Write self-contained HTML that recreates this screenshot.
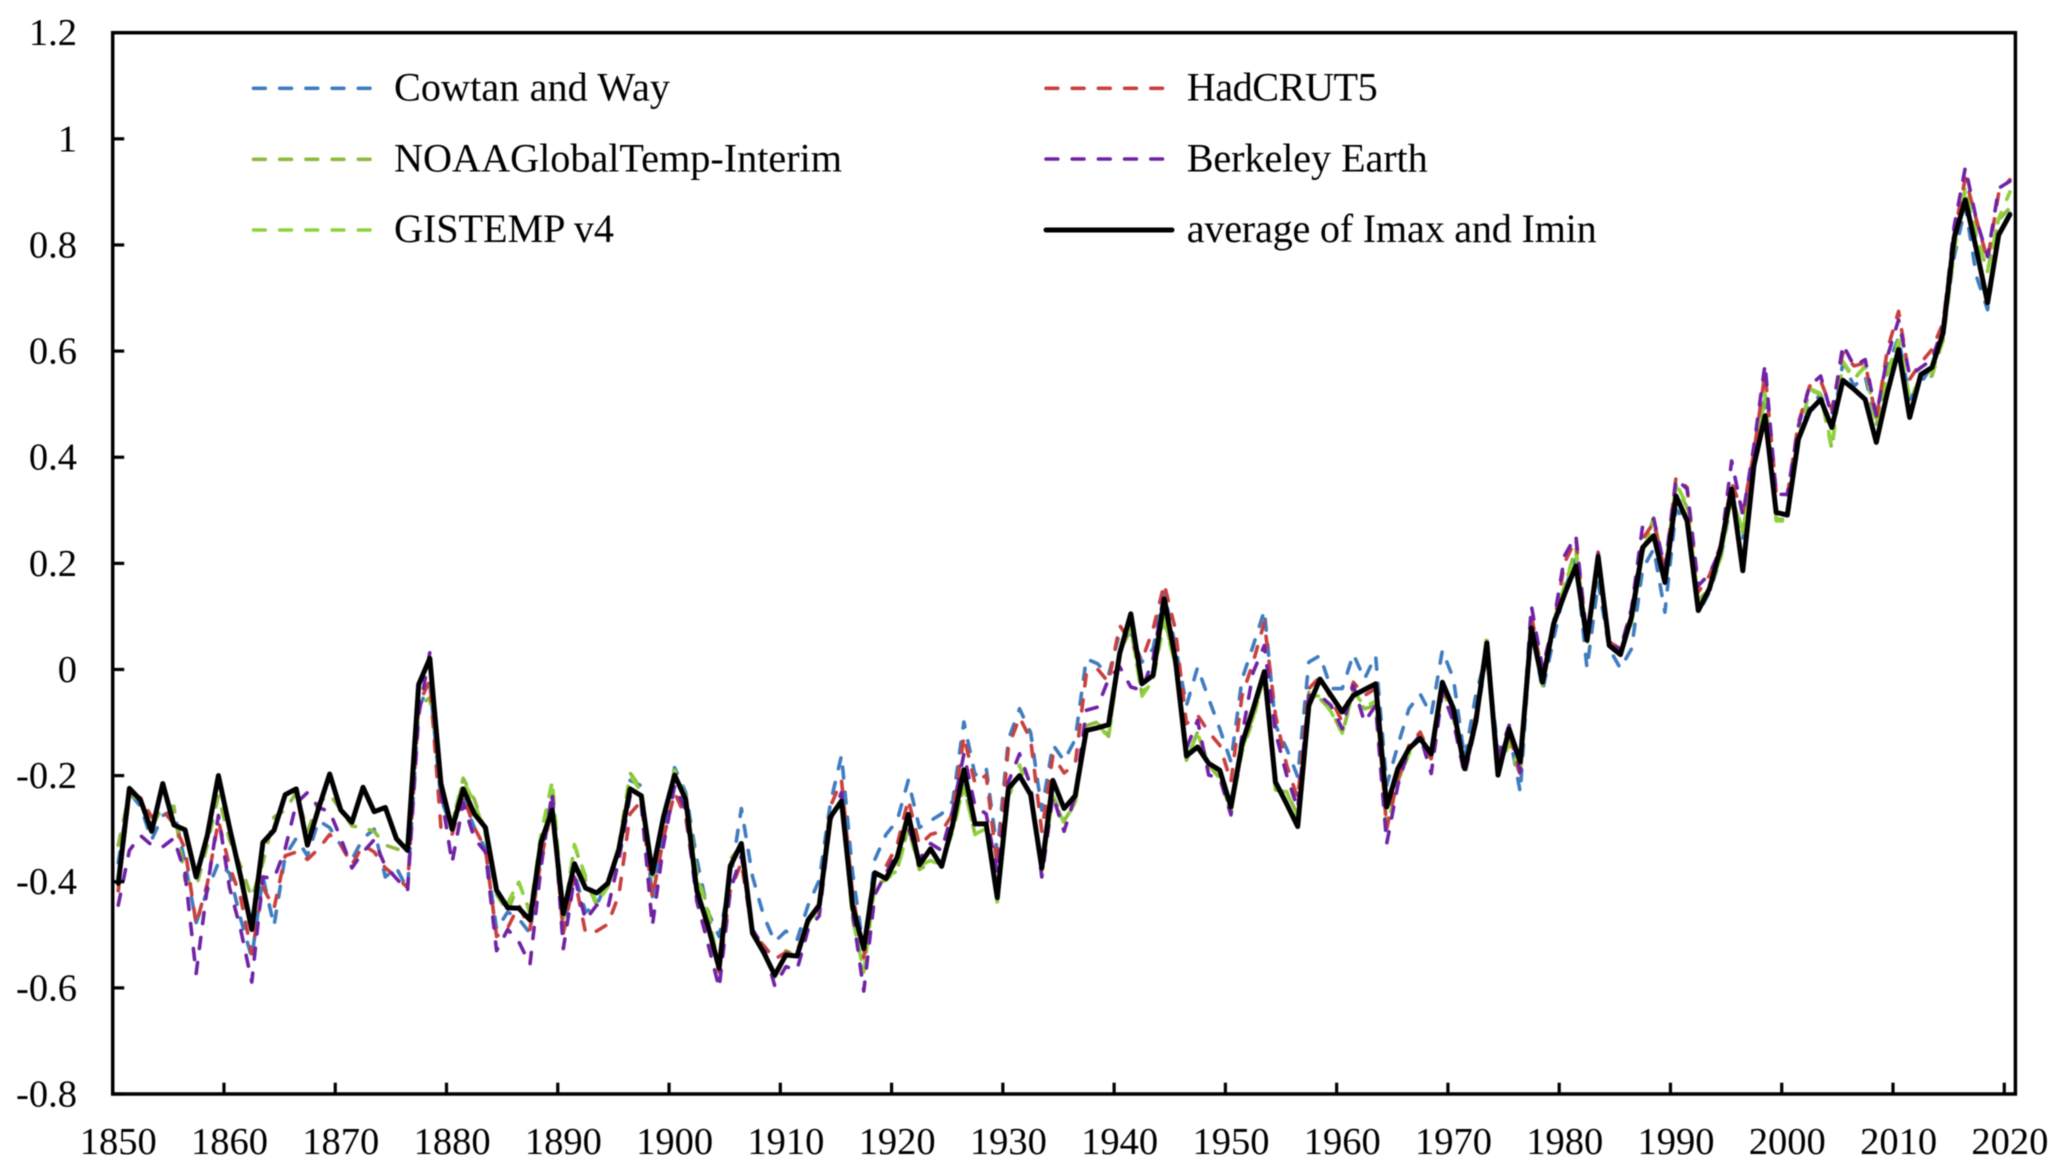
<!DOCTYPE html>
<html lang="en">
<head>
<meta charset="utf-8">
<title>Global temperature anomaly datasets, 1850-2020</title>
<style>
html,body{margin:0;padding:0;background:#fff;}
svg{display:block;filter:blur(0.45px);}
text{font-family:"Liberation Serif",serif;fill:#000;}
.tick-label{font-size:38.5px;}
.legend-label{font-size:40.2px;}
</style>
</head>
<body>
<svg id="chart" xmlns="http://www.w3.org/2000/svg" width="2067" height="1172" viewBox="0 0 2067 1172">
  <rect x="0" y="0" width="2067" height="1172" fill="#fff"/>
  <g id="series-layer"></g>
  <g id="axes-layer"></g>
  <g>
    <g>
      <line x1="253.5" y1="88.3" x2="370" y2="88.3" stroke="#3f7cc0" stroke-width="3.6" stroke-linecap="round" stroke-dasharray="11.8 14.4"/>
      <text class="legend-label" x="394" y="100.5" textLength="276">Cowtan and Way</text>
    </g>
    <g>
      <line x1="253.5" y1="159.3" x2="370" y2="159.3" stroke="#8dbb3e" stroke-width="3.6" stroke-linecap="round" stroke-dasharray="11.8 14.4"/>
      <text class="legend-label" x="394" y="171.7" textLength="448">NOAAGlobalTemp-Interim</text>
    </g>
    <g>
      <line x1="253.5" y1="230" x2="370" y2="230" stroke="#8ed23c" stroke-width="3.6" stroke-linecap="round" stroke-dasharray="11.8 14.4"/>
      <text class="legend-label" x="394" y="242" textLength="220">GISTEMP v4</text>
    </g>
    <g>
      <line x1="1046" y1="88.3" x2="1162.5" y2="88.3" stroke="#c8403f" stroke-width="3.6" stroke-linecap="round" stroke-dasharray="11.8 14.4"/>
      <text class="legend-label" x="1186.7" y="100.5" textLength="191">HadCRUT5</text>
    </g>
    <g>
      <line x1="1046" y1="159" x2="1162.5" y2="159" stroke="#7022a4" stroke-width="3.6" stroke-linecap="round" stroke-dasharray="11.8 14.4"/>
      <text class="legend-label" x="1186.7" y="171.7" textLength="241">Berkeley Earth</text>
    </g>
    <g>
      <line x1="1046" y1="230" x2="1172" y2="230" stroke="#000" stroke-width="5" stroke-linecap="round"/>
      <text class="legend-label" x="1186.7" y="242" textLength="410">average of Imax and Imin</text>
    </g>
  </g>
</svg>
<script>
const firstYear = 1850;
const gistempFirstYear = 1880;
const yTickValues = [1.2, 1, 0.8, 0.6, 0.4, 0.2, 0, -0.2, -0.4, -0.6, -0.8];
const yTickLabels = ["1.2", "1", "0.8", "0.6", "0.4", "0.2", "0", "-0.2", "-0.4", "-0.6", "-0.8"];
const xTickYears = [1850, 1860, 1870, 1880, 1890, 1900, 1910, 1920, 1930, 1940, 1950, 1960, 1970, 1980, 1990, 2000, 2010, 2020];

const cowtanWay = [
-.364,-.232,-.258,-.321,-.275,-.265,-.364,-.477,-.417,-.364,
-.384,-.470,-.543,-.391,-.483,-.351,-.318,-.351,-.285,-.298,
-.331,-.358,-.318,-.301,-.391,-.374,-.414,-.073,-.026,-.245,
-.298,-.245,-.298,-.338,-.490,-.457,-.470,-.497,-.344,-.238,
-.490,-.384,-.457,-.444,-.397,-.358,-.209,-.219,-.430,-.298,
-.185,-.232,-.358,-.457,-.503,-.397,-.262,-.390,-.464,-.513,
-.493,-.510,-.444,-.397,-.252,-.162,-.384,-.530,-.358,-.311,
-.285,-.209,-.298,-.285,-.272,-.248,-.099,-.199,-.185,-.344,
-.132,-.074,-.119,-.265,-.142,-.172,-.132,.020,.011,-.011,
.070,.070,.014,.039,.145,.045,-.068,.004,-.055,-.112,
-.174,-.018,.045,.111,-.105,-.149,-.202,.014,.026,-.036,
-.036,.029,-.018,.026,-.218,-.143,-.074,-.046,-.086,.036,
-.018,-.168,-.049,.033,-.155,-.118,-.231,.083,-.040,.058,
.152,.208,.002,.164,.039,.002,.039,.190,.227,.108,
.302,.277,.105,.146,.208,.321,.246,.378,.522,.296,
.290,.434,.497,.518,.453,.578,.534,.553,.459,.572,
.625,.509,.540,.572,.641,.778,.873,.741,.678,.822,
.860];

const noaaInterim = [
-.331,-.232,-.252,-.298,-.257,-.258,-.397,-.411,-.331,-.238,
-.321,-.371,-.430,-.364,-.278,-.265,-.232,-.305,-.252,-.235,
-.265,-.295,-.298,-.305,-.331,-.338,-.344,-.070,-.053,-.219,
-.291,-.205,-.245,-.305,-.424,-.457,-.401,-.457,-.318,-.212,
-.470,-.331,-.397,-.444,-.404,-.331,-.195,-.225,-.390,-.278,
-.199,-.238,-.384,-.450,-.570,-.358,-.331,-.490,-.530,-.580,
-.530,-.540,-.477,-.444,-.278,-.245,-.470,-.570,-.404,-.397,
-.377,-.298,-.377,-.364,-.364,-.305,-.219,-.311,-.298,-.440,
-.238,-.199,-.232,-.377,-.238,-.285,-.252,-.106,-.099,-.126,
.033,.076,-.046,-.018,.101,.008,-.171,-.118,-.180,-.205,
-.268,-.155,-.093,-.011,-.227,-.231,-.274,-.043,-.055,-.077,
-.121,-.043,-.074,-.068,-.290,-.212,-.155,-.118,-.165,-.036,
-.093,-.187,-.093,.064,-.193,-.137,-.193,.070,-.030,.089,
.158,.230,.045,.196,.052,.027,.089,.221,.287,.177,
.346,.305,.130,.152,.208,.327,.258,.390,.509,.283,
.283,.434,.528,.518,.415,.578,.547,.572,.459,.559,
.616,.509,.547,.553,.622,.791,.904,.810,.753,.847,
.870];

const gistemp = [
-.29,-.21,-.25,-.31,-.42,-.44,-.40,-.46,-.31,-.21,
-.47,-.33,-.39,-.44,-.41,-.34,-.20,-.23,-.39,-.28,
-.19,-.24,-.39,-.46,-.56,-.36,-.33,-.49,-.53,-.58,
-.54,-.54,-.48,-.45,-.28,-.24,-.47,-.57,-.40,-.39,
-.38,-.30,-.37,-.36,-.37,-.30,-.22,-.31,-.30,-.44,
-.24,-.18,-.24,-.38,-.24,-.29,-.25,-.11,-.10,-.13,
.03,.08,-.05,-.02,.09,.01,-.17,-.12,-.18,-.20,
-.27,-.15,-.09,-.01,-.23,-.23,-.28,-.05,-.05,-.08,
-.12,-.04,-.07,-.06,-.30,-.21,-.16,-.12,-.17,-.04,
-.09,-.19,-.09,.06,-.19,-.14,-.20,.07,-.03,.09,
.16,.22,.05,.20,.05,.03,.09,.22,.28,.18,
.35,.31,.13,.15,.21,.33,.26,.39,.52,.28,
.28,.43,.53,.52,.42,.58,.55,.57,.46,.56,
.62,.51,.55,.56,.62,.79,.91,.82,.75,.85,
.90];

const hadcrut5 = [
-.417,-.232,-.242,-.278,-.265,-.291,-.338,-.480,-.404,-.285,
-.371,-.430,-.536,-.410,-.450,-.351,-.344,-.358,-.338,-.311,
-.331,-.368,-.331,-.344,-.374,-.391,-.411,-.066,-.020,-.298,
-.311,-.238,-.298,-.338,-.503,-.487,-.444,-.490,-.358,-.258,
-.497,-.391,-.497,-.493,-.480,-.424,-.272,-.248,-.430,-.318,
-.232,-.278,-.424,-.490,-.570,-.417,-.364,-.497,-.520,-.546,
-.533,-.533,-.470,-.444,-.258,-.209,-.424,-.543,-.384,-.371,
-.331,-.245,-.331,-.311,-.305,-.272,-.126,-.215,-.199,-.371,
-.146,-.090,-.132,-.305,-.162,-.195,-.179,-.008,.001,-.024,
.083,.051,.017,.076,.161,.076,-.102,-.086,-.118,-.143,
-.212,-.049,.014,.089,-.086,-.180,-.243,-.036,-.014,-.055,
-.099,-.024,-.049,-.036,-.300,-.206,-.143,-.118,-.168,-.036,
-.086,-.187,-.086,.033,-.174,-.118,-.199,.102,-.011,.083,
.202,.246,.058,.221,.052,.039,.114,.246,.277,.183,
.362,.343,.146,.177,.233,.352,.296,.409,.559,.334,
.327,.465,.534,.544,.490,.597,.572,.578,.471,.603,
.675,.547,.578,.603,.653,.822,.926,.847,.772,.898,
.923];

const berkeleyEarth = [
-.444,-.341,-.313,-.331,-.334,-.318,-.384,-.573,-.411,-.275,
-.411,-.490,-.589,-.391,-.394,-.338,-.252,-.232,-.260,-.268,
-.318,-.374,-.344,-.321,-.371,-.394,-.417,-.086,.032,-.232,
-.364,-.252,-.318,-.344,-.530,-.490,-.513,-.556,-.371,-.232,
-.526,-.391,-.472,-.444,-.450,-.358,-.238,-.252,-.483,-.331,
-.219,-.265,-.437,-.517,-.600,-.417,-.351,-.490,-.523,-.596,
-.560,-.566,-.490,-.464,-.285,-.232,-.457,-.606,-.424,-.384,
-.344,-.298,-.358,-.328,-.341,-.265,-.159,-.258,-.272,-.384,
-.212,-.159,-.219,-.391,-.238,-.305,-.238,-.077,-.071,-.018,
.005,-.033,-.039,.020,.145,.020,-.149,-.096,-.199,-.205,
-.274,-.124,-.005,.045,-.118,-.199,-.262,-.049,-.049,-.068,
-.112,-.030,-.099,-.068,-.328,-.218,-.149,-.124,-.196,-.043,
-.099,-.199,-.105,.033,-.168,-.105,-.193,.120,.002,.089,
.215,.252,.058,.218,.045,.039,.114,.271,.284,.190,
.359,.340,.158,.180,.227,.393,.290,.421,.575,.330,
.330,.459,.534,.553,.478,.612,.572,.584,.478,.590,
.659,.553,.569,.584,.647,.835,.946,.847,.778,.907,
.920];

const averageImaxImin = [
-.403,-.224,-.246,-.305,-.215,-.293,-.302,-.391,-.313,-.200,
-.298,-.390,-.490,-.326,-.303,-.236,-.225,-.331,-.262,-.197,
-.265,-.288,-.222,-.268,-.260,-.319,-.341,-.028,.021,-.215,
-.301,-.225,-.272,-.298,-.416,-.449,-.450,-.472,-.325,-.265,
-.460,-.366,-.412,-.421,-.403,-.338,-.225,-.238,-.384,-.278,
-.199,-.245,-.417,-.483,-.563,-.371,-.328,-.497,-.533,-.576,
-.538,-.540,-.472,-.444,-.278,-.248,-.447,-.526,-.383,-.394,
-.354,-.273,-.368,-.338,-.371,-.291,-.189,-.291,-.291,-.430,
-.224,-.200,-.236,-.374,-.209,-.262,-.238,-.115,-.110,-.104,
.030,.105,-.027,-.011,.133,.020,-.163,-.146,-.177,-.190,
-.259,-.140,-.074,-.004,-.212,-.253,-.296,-.068,-.018,-.049,
-.080,-.049,-.038,-.027,-.259,-.187,-.149,-.130,-.159,-.024,
-.074,-.187,-.099,.050,-.199,-.112,-.174,.078,-.024,.086,
.143,.195,.055,.213,.045,.028,.099,.230,.252,.164,
.327,.280,.111,.152,.227,.340,.186,.384,.478,.296,
.291,.434,.487,.509,.456,.545,.528,.509,.428,.522,
.603,.475,.556,.569,.634,.813,.885,.791,.691,.819,
.857];

const SVG_NS = "http://www.w3.org/2000/svg";
const plot = {left: 112.7, right: 2015.4, top: 32.7, bottom: 1094, categories: 171, yMax: 1.2, yMin: -0.8};

function xCategory(year) {
  const w = (plot.right - plot.left) / plot.categories;
  return plot.left + (year - firstYear + 0.5) * w;
}
function xTick(year) {
  const w = (plot.right - plot.left) / plot.categories;
  return plot.left + (year - firstYear) * w;
}
function yValue(v) {
  return plot.top + (plot.yMax - v) / (plot.yMax - plot.yMin) * (plot.bottom - plot.top);
}
function make(tag, attrs) {
  const el = document.createElementNS(SVG_NS, tag);
  for (const k in attrs) el.setAttribute(k, attrs[k]);
  return el;
}

const seriesLayer = document.getElementById("series-layer");
const axesLayer = document.getElementById("axes-layer");

function drawSeries(values, startYear, color, width, dash, name) {
  const d = values.map((v, i) => (i ? "L" : "M") + xCategory(startYear + i).toFixed(2) + " " + yValue(v).toFixed(2)).join("");
  const path = make("path", {d: d, fill: "none", stroke: color, "stroke-width": width, "stroke-linejoin": "round", "stroke-linecap": "round"});
  if (dash) path.setAttribute("stroke-dasharray", dash);
  
  
  seriesLayer.appendChild(path);
}

drawSeries(cowtanWay, firstYear, "#3f7cc0", 3.6, "11 14.2", "series-cowtan-and-way");
drawSeries(noaaInterim, firstYear, "#8dbb3e", 3.6, "11 14.2", "series-noaaglobaltemp-interim");
drawSeries(gistemp, gistempFirstYear, "#8ed23c", 3.6, "11 14.2", "series-gistemp-v4");
drawSeries(hadcrut5, firstYear, "#c8403f", 3.6, "11 14.2", "series-hadcrut5");
drawSeries(berkeleyEarth, firstYear, "#7022a4", 3.6, "11 14.2", "series-berkeley-earth");
drawSeries(averageImaxImin, firstYear, "#000", 5, null, "series-average-of-imax-and-imin");

const frame = make("rect", {x: plot.left, y: plot.top, width: plot.right - plot.left, height: plot.bottom - plot.top, fill: "none", stroke: "#000", "stroke-width": 3.5});


axesLayer.appendChild(frame);

yTickValues.forEach(function (v, i) {
  const y = yValue(v);
  const tick = make("line", {x1: plot.left, x2: plot.left + 11.5, y1: y, y2: y, stroke: "#000", "stroke-width": 3.2});
  
  
  axesLayer.appendChild(tick);
  const label = make("text", {x: 77, y: y + 12.5, "text-anchor": "end", class: "tick-label"});
  label.textContent = yTickLabels[i];
  
  
  axesLayer.appendChild(label);
});

xTickYears.forEach(function (year) {
  const x = xTick(year);
  const tick = make("line", {x1: x, x2: x, y1: plot.bottom, y2: plot.bottom - 11.3, stroke: "#000", "stroke-width": 3.2});
  
  
  axesLayer.appendChild(tick);
  const label = make("text", {x: xCategory(year), y: 1154, "text-anchor": "middle", class: "tick-label"});
  label.textContent = String(year);
  
  
  axesLayer.appendChild(label);
});
</script>
</body>
</html>
